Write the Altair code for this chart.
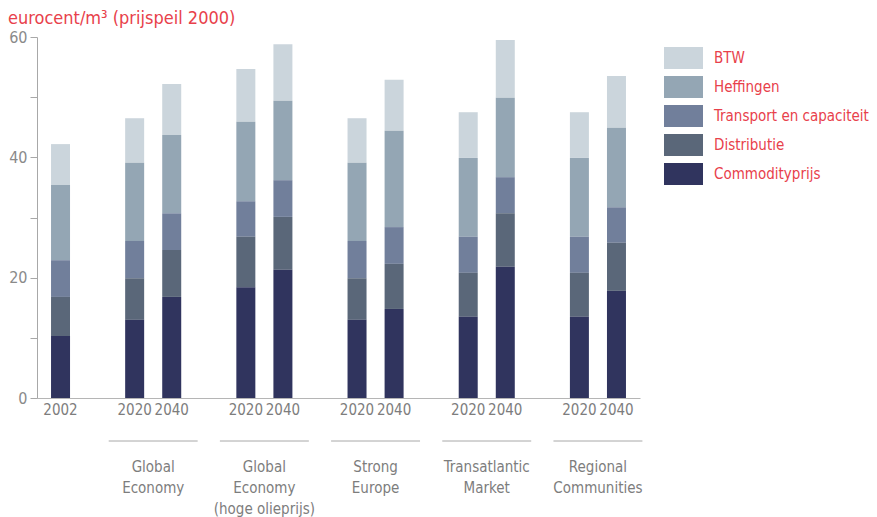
import altair as alt
import pandas as pd

components = ["BTW", "Heffingen", "Transport en capaciteit", "Distributie", "Commodityprijs"]
colors = ["#cbd5dc", "#94a6b4", "#717f9b", "#5a6779", "#30345e"]
stack_rank = [4, 3, 2, 1, 0]

bar_group = ["2002", "GE", "GE", "GEH", "GEH", "SE", "SE", "TM", "TM", "RC", "RC"]
bar_year = ["2002", "2020", "2040", "2020", "2040", "2020", "2040", "2020", "2040", "2020", "2040"]
bar_slot = [0, 2, 3, 5, 6, 8, 9, 11, 12, 14, 15]

commodity = [10.3, 13.0, 16.8, 18.4, 21.3, 13.0, 14.8, 13.5, 21.8, 13.5, 17.8]
distributie = [6.5, 6.9, 7.8, 8.4, 8.8, 6.9, 7.5, 7.3, 8.9, 7.3, 8.0]
transport = [6.1, 6.2, 6.1, 5.9, 6.1, 6.2, 6.1, 6.0, 6.0, 6.0, 5.9]
heffingen = [12.5, 13.0, 13.0, 13.2, 13.2, 13.0, 16.0, 13.1, 13.2, 13.1, 13.2]
btw = [6.8, 7.4, 8.5, 8.8, 9.4, 7.4, 8.5, 7.6, 9.6, 7.6, 8.6]

group_keys = ["GE", "GEH", "SE", "TM", "RC"]
group_labels = ["Global\nEconomy", "Global\nEconomy\n(hoge olieprijs)", "Strong\nEurope",
                "Transatlantic\nMarket", "Regional\nCommunities"]

series = {"BTW": btw, "Heffingen": heffingen, "Transport en capaciteit": transport,
          "Distributie": distributie, "Commodityprijs": commodity}

rows = []
for comp, rank in zip(components, stack_rank):
    for i, v in enumerate(series[comp]):
        rows.append({"slot": bar_slot[i], "year": bar_year[i], "component": comp,
                     "rank": rank, "value": v})
df = pd.DataFrame(rows)

year_df = pd.DataFrame({"slot": bar_slot, "year": bar_year})
centers = [sum(s for g, s in zip(bar_group, bar_slot) if g == k) /
           sum(1 for g in bar_group if g == k) for k in group_keys]
grp_df = pd.DataFrame({"center": centers, "label": group_labels})
grp_df["lo"] = grp_df["center"] - 1.2
grp_df["hi"] = grp_df["center"] + 1.2

W, H = 603, 361
FONT = "Liberation Sans Narrow, DejaVu Sans Condensed, Roboto, sans-serif"
RED = "#e8414b"
GRAY = "#7d7d7d"

xscale = alt.Scale(domain=[-0.5, 15.5], nice=False, zero=False)

bars = alt.Chart(df).mark_bar(width=19).encode(
    x=alt.X("slot:Q", scale=xscale,
            axis=alt.Axis(labels=False, ticks=False, grid=False, title=None,
                          domainColor="#b5b5b5", domainWidth=1.2)),
    y=alt.Y("value:Q", stack="zero", scale=alt.Scale(domain=[0, 60], nice=False),
            axis=alt.Axis(values=[0, 10, 20, 30, 40, 50, 60],
                          labelExpr="datum.value % 20 == 0 ? datum.label : ''",
                          grid=False, title=None, tickSize=7, tickColor="#a8a8a8",
                          domainColor="#a8a8a8", labelColor="#8a8a8a",
                          labelFontSize=16, labelFont=FONT, labelPadding=3)),
    color=alt.Color("component:N",
                    scale=alt.Scale(domain=components, range=colors),
                    legend=alt.Legend(orient="none", legendX=627, legendY=10, title=None,
                                      symbolType="M-1,-0.564H1V0.564H-1Z",
                                      symbolSize=1521, symbolStrokeWidth=0,
                                      symbolOpacity=1,
                                      labelColor=RED, labelFontSize=15, labelFont=FONT,
                                      labelOffset=11, labelLimit=400,
                                      clipHeight=22, rowPadding=7,
                                      padding=0)),
    order=alt.Order("rank:Q", sort="ascending"),
)

years = alt.Chart(year_df).mark_text(baseline="top", fontSize=15, font=FONT,
                                     color=GRAY).encode(
    x=alt.X("slot:Q", scale=xscale),
    y=alt.value(H + 5),
    text="year:N",
)

rules = alt.Chart(grp_df).mark_rule(color="#a8a8a8", strokeWidth=1).encode(
    x=alt.X("lo:Q", scale=xscale),
    x2="hi:Q",
    y=alt.value(H + 43),
)

glabels = alt.Chart(grp_df).mark_text(baseline="top", fontSize=15, font=FONT,
                                      color=GRAY, lineBreak="\n",
                                      lineHeight=21).encode(
    x=alt.X("center:Q", scale=xscale),
    y=alt.value(H + 62),
    text="label:N",
)

title = alt.Chart(pd.DataFrame({"t": ["eurocent/m³ (prijspeil 2000)"]})).mark_text(
    align="left", baseline="middle", fontSize=18, font=FONT, color=RED
).encode(x=alt.value(-29), y=alt.value(-18), text="t:N")

chart = alt.layer(bars, years, rules, glabels, title).properties(
    width=W, height=H,
    autosize=alt.AutoSizeParams(type="none"),
    padding={"left": 29, "top": 29, "right": 229, "bottom": 120},
).configure_view(stroke=None)

chart.save("out.html", embed_options={"renderer": "svg", "actions": False})
